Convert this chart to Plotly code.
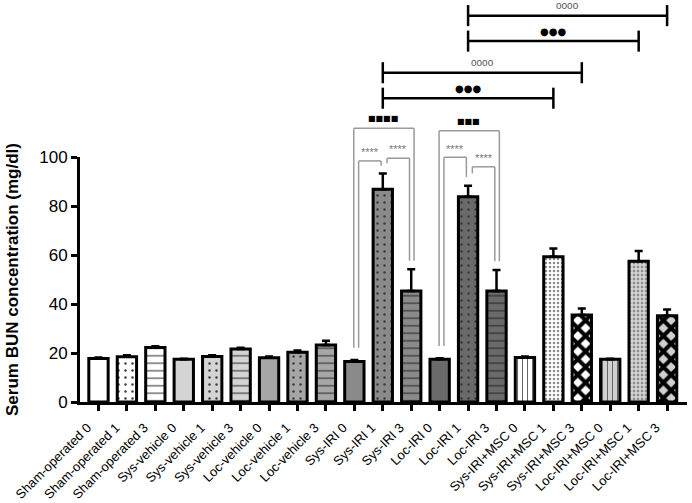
import plotly.graph_objects as go

# ---------------- data ----------------
categories = [
    "Sham-operated 0", "Sham-operated 1", "Sham-operated 3",
    "Sys-vehicle 0", "Sys-vehicle 1", "Sys-vehicle 3",
    "Loc-vehicle 0", "Loc-vehicle 1", "Loc-vehicle 3",
    "Sys-IRI 0", "Sys-IRI 1", "Sys-IRI 3",
    "Loc-IRI 0", "Loc-IRI 1", "Loc-IRI 3",
    "Sys-IRI+MSC 0", "Sys-IRI+MSC 1", "Sys-IRI+MSC 3",
    "Loc-IRI+MSC 0", "Loc-IRI+MSC 1", "Loc-IRI+MSC 3",
]
bun_mean = [17.8, 18.5, 22.2, 17.4, 18.6, 21.6, 18.1, 20.3, 23.3,
            16.5, 86.8, 45.3, 17.4, 83.8, 45.3,
            18.2, 59.3, 35.5, 17.4, 57.5, 35.2]
bun_sem = [0.4, 0.6, 0.6, 0.3, 0.5, 0.5, 0.5, 0.7, 1.7,
           0.6, 6.5, 8.9, 0.5, 4.5, 8.6,
           0.4, 3.4, 2.7, 0.3, 4.1, 2.6]
y_ticks = [0, 20, 40, 60, 80, 100]

# significance brackets: (left bar, right bar, level in mg/dl, label)
group_brackets = [(9, 11, 111.7, "■■■■"), (12, 14, 110.7, "■■■")]
pair_brackets = [(9, 10, 98.4, "****"), (10, 11, 99.5, "****"),
                 (12, 13, 99.9, "****"), (13, 14, 96.0, "****")]
long_brackets = [(13, 20, 157.7, "oooo"), (13, 19, 147.3, "●●●"),
                 (10, 17, 134.4, "oooo"), (10, 16, 124.0, "●●●")]

# ---------------- styles ----------------
fill_colors = ["#ffffff"] * 3 + ["#d4d4d4"] * 3 + ["#a6a6a6"] * 3 + \
              ["#8a8a8a"] * 3 + ["#6a6a6a"] * 3 + \
              ["#ffffff", "#ffffff", "#ffffff", "#d0d0d0", "#d0d0d0", "#d0d0d0"]
pat_shape = ["", ".", "-"] * 5 + ["|", ".", "x", "|", ".", "x"]
pat_fg = ["#333333", "#3a3a3a", "#222222"] * 5 + \
         ["#666666", "#8a8a8a", "#000000", "#666666", "#8a8a8a", "#000000"]
pat_size = [7, 7, 7.5] * 5 + [5, 4, 11, 5, 4, 11]
pat_solid = [0.1, 0.1, 0.13] * 5 + [0.2, 0.3, 0.6, 0.2, 0.3, 0.6]

FONT = "Liberation Sans, Arial, sans-serif"
Y_MIN, Y_MAX = 0, 100


def to_paper(v):
    return (v - Y_MIN) / (Y_MAX - Y_MIN)


fig = go.Figure()
for i, cat in enumerate(categories):
    pattern = dict(shape=pat_shape[i], fillmode="overlay")
    if pat_shape[i]:
        pattern.update(fgcolor=pat_fg[i], fgopacity=1, size=pat_size[i],
                       solidity=pat_solid[i])
    fig.add_trace(go.Bar(
        x=[i], y=[bun_mean[i]], name=cat,
        width=0.68,
        marker=dict(color=fill_colors[i], line=dict(color="black", width=3),
                    pattern=pattern),
        error_y=dict(type="data", array=[bun_sem[i]], arrayminus=[0],
                     symmetric=False, color="black", thickness=2.5, width=4),
        showlegend=False,
    ))

shapes = []
annotations = []
GRAY = "#9a9a9a"


def top(i):
    return bun_mean[i] + bun_sem[i]


def leg_bottom(i, level, gap=3.5):
    return min(top(i) + gap, level - 2.0)


# group (outer) brackets
for a, b, lvl, lab in group_brackets:
    xa, xb = a - 0.02, b + 0.1
    for x0, x1, y0, y1 in [(xa, xb, lvl, lvl), (xa, xa, leg_bottom(a, lvl, 5), lvl),
                           (xb, xb, leg_bottom(b, lvl), lvl)]:
        shapes.append(dict(type="line", xref="x", yref="paper", x0=x0, x1=x1,
                           y0=to_paper(y0), y1=to_paper(y1),
                           line=dict(color=GRAY, width=1.5)))
    annotations.append(dict(x=(a + b) / 2, y=to_paper(lvl + 1.2), xref="x", yref="paper",
                            text=lab, showarrow=False, yanchor="bottom",
                            font=dict(size=8, color="black", family="DejaVu Sans")))

# pairwise inner brackets
for a, b, lvl, lab in pair_brackets:
    xa, xb = a + 0.15, b - 0.06
    for x0, x1, y0, y1 in [(xa, xb, lvl, lvl), (xa, xa, leg_bottom(a, lvl, 5), lvl),
                           (xb, xb, leg_bottom(b, lvl), lvl)]:
        shapes.append(dict(type="line", xref="x", yref="paper", x0=x0, x1=x1,
                           y0=to_paper(y0), y1=to_paper(y1),
                           line=dict(color=GRAY, width=1.5)))
    annotations.append(dict(x=(xa + xb) / 2, y=to_paper(lvl + 0.3), xref="x", yref="paper",
                            text=lab, showarrow=False, yanchor="bottom",
                            font=dict(size=11, color="#7a7a7a", family=FONT)))

# long comparison brackets
for a, b, lvl, lab in long_brackets:
    for x0, x1, y0, y1 in [(a, b, lvl, lvl), (a, a, lvl - 4.3, lvl + 4.3),
                           (b, b, lvl - 4.3, lvl + 4.3)]:
        shapes.append(dict(type="line", xref="x", yref="paper", x0=x0, x1=x1,
                           y0=to_paper(y0), y1=to_paper(y1),
                           line=dict(color="black", width=2.5)))
    is_open = lab.startswith("o")
    annotations.append(dict(x=(a + b) / 2, y=to_paper(lvl + 1.0), xref="x", yref="paper",
                            text=lab, showarrow=False, yanchor="bottom",
                            font=dict(size=10,
                                      color="#555555" if is_open else "black",
                                      family=FONT if is_open else "DejaVu Sans")))

fig.update_layout(
    width=692, height=503,
    margin=dict(l=80, r=5, t=157, b=101),
    paper_bgcolor="white", plot_bgcolor="white",
    font=dict(family=FONT, color="black"),
    shapes=shapes, annotations=annotations,
    barmode="overlay",
)
fig.update_xaxes(
    range=[-0.65, 20.7],
    tickmode="array", tickvals=list(range(len(categories))), ticktext=categories,
    tickangle=-45, tickfont=dict(size=13, family=FONT),
    ticklabelstandoff=4, ticklabelshift=-11,
    showline=True, linecolor="black", linewidth=3,
    ticks="outside", ticklen=6, tickwidth=2.5, tickcolor="black",
    showgrid=False, zeroline=False, automargin=False,
)
fig.update_yaxes(
    range=[Y_MIN, Y_MAX],
    tickmode="array", tickvals=y_ticks,
    tickfont=dict(size=17, family=FONT),
    showline=True, linecolor="black", linewidth=3,
    ticks="outside", ticklen=6, tickwidth=2.5, tickcolor="black",
    showgrid=False, zeroline=False, automargin=False,
    title=dict(text="<b>Serum BUN concentration (mg/dl)</b>",
               font=dict(size=17, family=FONT), standoff=17),
)

fig.write_html("out.html", config={"displayModeBar": False},
               post_script="document.body.style.margin='0';")
